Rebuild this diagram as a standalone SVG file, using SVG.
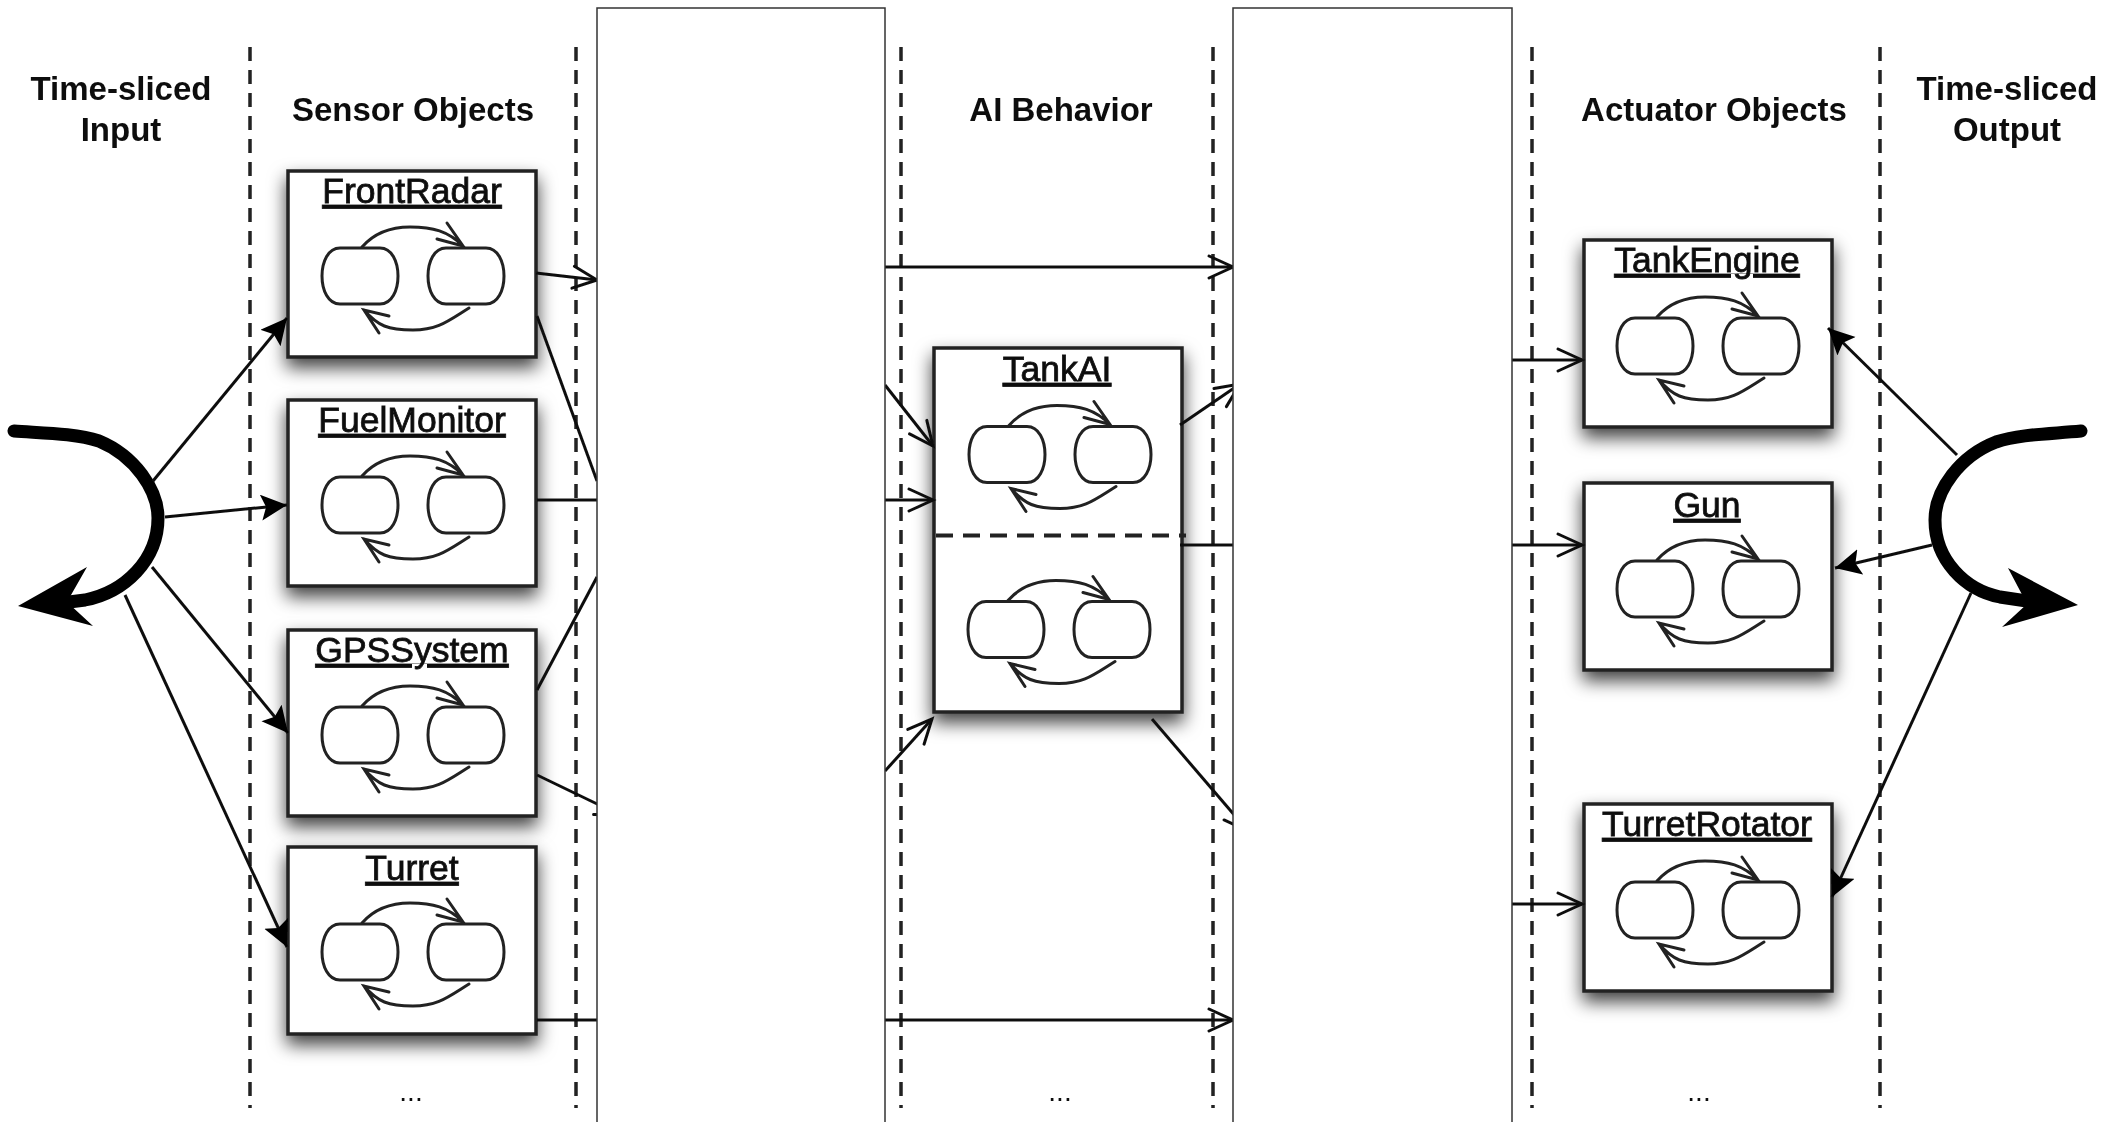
<svg xmlns="http://www.w3.org/2000/svg" xmlns:xlink="http://www.w3.org/1999/xlink" width="2106" height="1122" viewBox="0 0 2106 1122">
<style>
text{font-family:"Liberation Sans",Arial,sans-serif;fill:#111;text-anchor:middle}
.hd{font-size:33px;font-weight:bold}
.tt{font-size:35.500px;text-decoration:underline;stroke:#111;stroke-width:.8px}
.dots{font-size:28px}
.box{fill:#fff;stroke:#222;stroke-width:3.500;filter:url(#sh)}
.st{fill:#fff;stroke:#222;stroke-width:3}
.ar{fill:none;stroke:#222;stroke-width:3;stroke-linecap:round}
.dash{stroke:#222;stroke-width:3.500;stroke-dasharray:14 9;fill:none}
.c{fill:none;stroke:#111;stroke-width:3}
.ch{marker-end:url(#fill)}
.co{marker-end:url(#open)}
.thick{fill:none;stroke:#000;stroke-width:13;stroke-linecap:round}
.cover{fill:#fff;stroke:#333;stroke-width:1.500}
</style>
<defs>
<filter id="sh" x="-20%" y="-20%" width="140%" height="140%"><feDropShadow dx="0" dy="9" stdDeviation="9" flood-color="#000" flood-opacity=".75"/></filter>
<filter id="soft" filterUnits="userSpaceOnUse" x="0" y="0" width="2106" height="1122"><feGaussianBlur stdDeviation=".55"/></filter>
<marker id="fill" markerUnits="userSpaceOnUse" markerWidth="30" markerHeight="30" refX="26" refY="13" orient="auto"><path d="M0 0L26 13L0 26L5 13Z" fill="#000"/></marker>
<marker id="open" markerUnits="userSpaceOnUse" markerWidth="30" markerHeight="30" refX="26" refY="13" orient="auto"><path d="M2 2L26 13L2 24" fill="none" stroke="#111" stroke-width="3" stroke-linecap="round"/></marker>
<g id="fsm">
<path class="st" d="M52 77H92C104 77 110 91 110 105C110 119 104 133 92 133H52C40 133 34 119 34 105C34 91 40 77 52 77Z"/>
<path class="st" d="M158 77H198C210 77 216 91 216 105C216 119 210 133 198 133H158C146 133 140 119 140 105C140 91 146 77 158 77Z"/>
<path class="ar" d="M74 76C88 60 105 56 122 56C145 56 160 60 175 75M159 52L175 75L149 68"/>
<path class="ar" d="M181 137C160 150 150 159 125 159C100 159 90 155 76 139M101 145L76 139L91 162"/>
</g>
</defs>
<rect width="2106" height="1122" fill="#fff"/>
<g filter="url(#soft)">
<g id="swimlanes">
<path class="dash" d="M250 47V1108M576 47V1108M901 47V1108M1213 47V1108M1532 47V1108M1880 47V1108"/>
</g>
<g id="labels">
<text class="hd" x="121" y="100">Time-sliced</text>
<text class="hd" x="121" y="141">Input</text>
<text class="hd" x="413" y="121">Sensor Objects</text>
<text class="hd" x="1061" y="121">AI Behavior</text>
<text class="hd" x="1714" y="121">Actuator Objects</text>
<text class="hd" x="2007" y="100">Time-sliced</text>
<text class="hd" x="2007" y="141">Output</text>
<text class="dots" x="411" y="1101">...</text>
<text class="dots" x="1060" y="1101">...</text>
<text class="dots" x="1699" y="1101">...</text>
</g>
<g id="FrontRadar"><rect class="box" x="288" y="171" width="248" height="186"/><text class="tt" x="412" y="203">FrontRadar</text><use href="#fsm" x="288" y="171"/></g>
<g id="FuelMonitor"><rect class="box" x="288" y="400" width="248" height="186"/><text class="tt" x="412" y="432">FuelMonitor</text><use href="#fsm" x="288" y="400"/></g>
<g id="GPSSystem"><rect class="box" x="288" y="630" width="248" height="186"/><text class="tt" x="412" y="662">GPSSystem</text><use href="#fsm" x="288" y="630"/></g>
<g id="Turret"><rect class="box" x="288" y="847" width="248" height="187"/><text class="tt" x="412" y="880">Turret</text><use href="#fsm" x="288" y="847"/></g>
<g id="TankAI"><rect class="box" x="934" y="348" width="248" height="364"/><text class="tt" x="1057" y="381">TankAI</text><use href="#fsm" x="935" y="349.500"/><path class="dash" d="M936 535.500H1186" style="stroke-width:4;stroke-dasharray:17 10"/><use href="#fsm" x="934" y="524.500"/></g>
<g id="TankEngine"><rect class="box" x="1584" y="240" width="248" height="187"/><text class="tt" x="1707" y="272">TankEngine</text><use href="#fsm" x="1583" y="241"/></g>
<g id="Gun"><rect class="box" x="1584" y="483" width="248" height="187"/><text class="tt" x="1707" y="517">Gun</text><use href="#fsm" x="1583" y="484"/></g>
<g id="TurretRotator"><rect class="box" x="1584" y="804" width="248" height="187"/><text class="tt" x="1707" y="836">TurretRotator</text><use href="#fsm" x="1583" y="805"/></g>
<g id="connectors">
<path class="thick" d="M14 431C40 433 75 433 99 441C135 456 158 490 158 518C158 560 125 592 85 600L45 605"/>
<path d="M18 606L87 567L67 602L93 626Z" fill="#000"/>
<path class="thick" d="M2081 431C2050 434 2020 434 1996 442C1960 456 1935 490 1935 520C1935 560 1965 590 2000 597L2040 603"/>
<path d="M2078 605L2008 568L2027 604L2002 627Z" fill="#000"/>
<path class="c ch" d="M153 481L287 318"/>
<path class="c ch" d="M165 517L287 505"/>
<path class="c ch" d="M152 567L288 733"/>
<path class="c ch" d="M125 595L287 947"/>
<path class="c ch" d="M1957 455L1828 328"/>
<path class="c ch" d="M1932 545L1835 568"/>
<path class="c ch" d="M1971 593L1832 897"/>
<path class="c co" d="M536 273L597 280"/>
<path class="c" d="M537 316L597 481"/>
<path class="c" d="M537 500H597"/>
<path class="c" d="M537 690L597 577"/>
<path class="c co" d="M537 775L620 815"/>
<path class="c" d="M537 1020H597"/>
<path class="c co" d="M885 267H1233"/>
<path class="c co" d="M885 385L933 446"/>
<path class="c co" d="M885 500H933"/>
<path class="c co" d="M885 771L932 719"/>
<path class="c co" d="M1180 425L1240 384"/>
<path class="c" d="M1180 545H1233"/>
<path class="c co" d="M1152 719L1248 831"/>
<path class="c co" d="M885 1020H1233"/>
<path class="c co" d="M1512 360H1582"/>
<path class="c co" d="M1512 545H1582"/>
<path class="c co" d="M1512 904H1582"/>
</g>
</g>
<g id="covers">
<rect class="cover" x="597" y="8" width="288" height="1130"/>
<rect class="cover" x="1233" y="8" width="279" height="1130"/>
</g>
</svg>
